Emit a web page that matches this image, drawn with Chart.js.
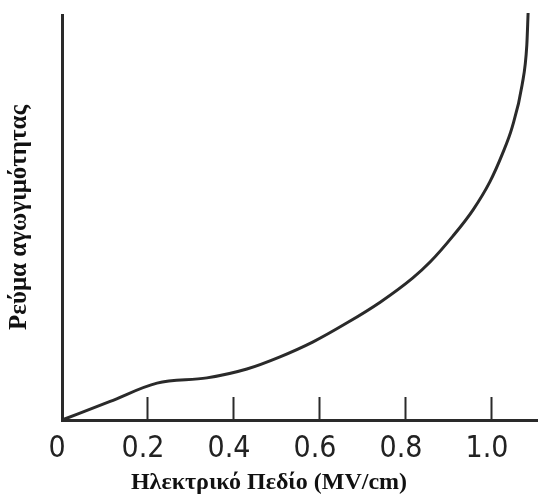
<!DOCTYPE html>
<html>
<head>
<meta charset="utf-8">
<script src="https://cdn.jsdelivr.net/npm/chart.js@4/dist/chart.umd.min.js"></script>
<style>
html,body{margin:0;padding:0;background:#fff;}
#wrap{width:538px;height:495px;}
</style>
</head>
<body>
<div id="wrap"><canvas id="c" width="538" height="495"></canvas></div>
<script>
// Data (x in MV/cm, y in arbitrary units 0-100)
const fieldMVcm = [0, 0.112, 0.221, 0.337, 0.430, 0.507, 0.584, 0.663, 0.740, 0.816, 0.856, 0.909, 0.956, 0.995, 1.023, 1.047, 1.070, 1.081, 1.084];
const current   = [0, 4.6, 9.1, 10.4, 12.6, 15.6, 19.3, 24.0, 29.1, 35.1, 39.0, 45.4, 51.9, 58.8, 65.4, 72.3, 82.7, 92.6, 100.5];
const xTickValues = [0, 0.2, 0.4, 0.6, 0.8, 1.0];
const xTitle = 'Ηλεκτρικό Πεδίο (MV/cm)';
const yTitle = 'Ρεύμα αγωγιμότητας';

const points = fieldMVcm.map((x, i) => ({x: x, y: current[i]}));
const ink = '#2a2a2a';

new Chart(document.getElementById('c'), {
  type: 'line',
  data: {
    datasets: [{
      data: points,
      borderColor: ink,
      borderWidth: 3,
      pointRadius: 0,
      cubicInterpolationMode: 'monotone',
      fill: false,
      clip: false
    }]
  },
  options: {
    responsive: false,
    animation: false,
    layout: {padding: {top: 15, right: 0, left: 0, bottom: 0}},
    plugins: {
      legend: {display: false},
      tooltip: {enabled: false},
      title: {
        display: true,
        position: 'bottom',
        text: xTitle,
        color: '#111',
        font: {family: '"Liberation Serif", "Times New Roman", serif', size: 24, weight: 'bold', lineHeight: 1.0},
        padding: {top: 0, bottom: 0}
      }
    },
    scales: {
      x: {
        type: 'linear',
        min: 0,
        max: 1.107,
        afterFit: s => { s.height = 51; s.paddingLeft = 0; s.paddingRight = 0; },
        afterBuildTicks: s => { s.ticks = xTickValues.map(v => ({value: v})); },
        ticks: {
          includeBounds: false,
          padding: 34,
          labelOffset: -5,
          color: '#222',
          font: {family: '"DejaVu Sans Condensed", "Liberation Sans", Arial, sans-serif', size: 30},
          callback: v => (v === 0 ? '0' : Number(v).toFixed(1))
        },
        grid: {
          drawOnChartArea: false,
          drawTicks: true,
          tickLength: -23,
          tickWidth: 2,
          color: ctx => (ctx.tick && ctx.tick.value === 0 ? 'rgba(0,0,0,0)' : ink)
        },
        border: {display: true, color: ink, width: 3}
      },
      y: {
        type: 'linear',
        min: 0,
        max: 100,
        afterFit: s => { s.width = 62; },
        ticks: {display: false},
        grid: {display: false},
        border: {display: true, color: ink, width: 3},
        title: {
          display: true,
          text: yTitle,
          color: '#111',
          font: {family: '"Liberation Serif", "Times New Roman", serif', size: 25, weight: 'bold', lineHeight: 1.2},
          padding: {top: 5, bottom: 0}
        }
      }
    }
  }
});
</script>
</body>
</html>
